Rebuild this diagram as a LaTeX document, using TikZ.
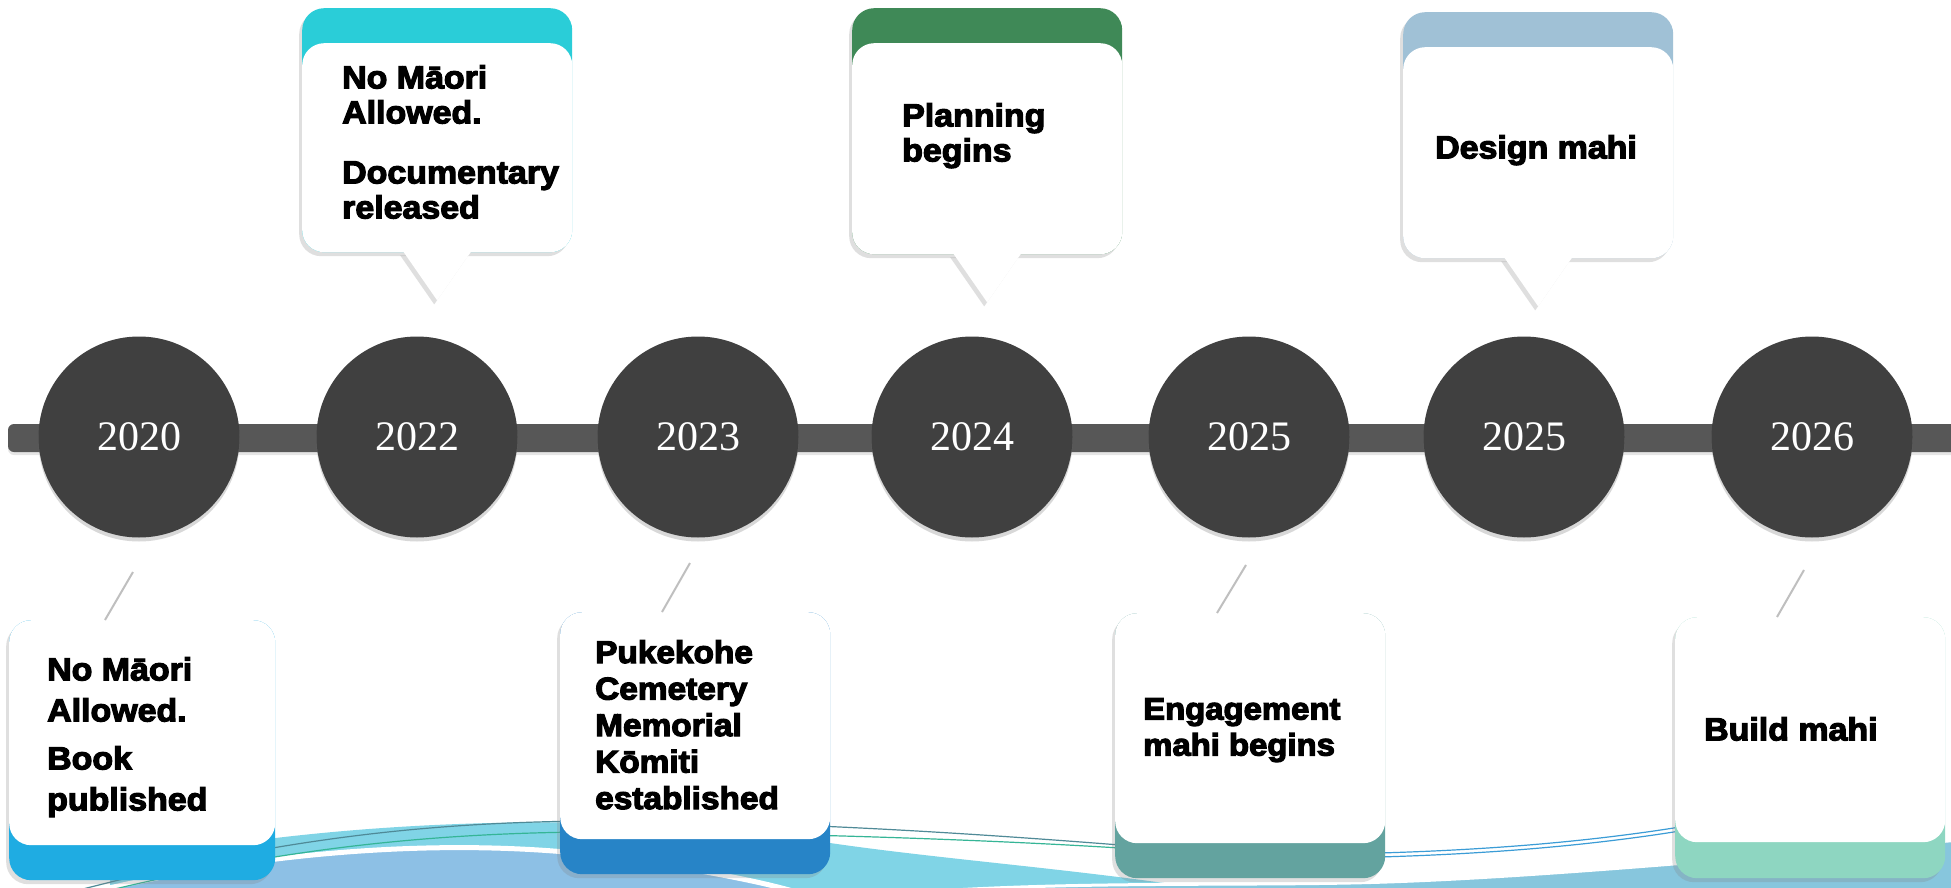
\documentclass[tikz,border=0pt]{standalone}
\usepackage{fontspec}
\setmainfont{Liberation Serif}
\newfontfamily\cardfont{Liberation Sans Bold}[FakeStretch=1.06]
\usepackage{tikz}
\usetikzlibrary{positioning,shadows}

\definecolor{ball}{HTML}{404040}
\definecolor{barline}{HTML}{575757}
\definecolor{aquatop}{HTML}{2ACDD8}
\definecolor{greentop}{HTML}{3F8957}
\definecolor{steeltop}{HTML}{A0C1D6}
\definecolor{skyfoot}{HTML}{1FACE2}
\definecolor{bluefoot}{HTML}{2784C7}
\definecolor{tealfoot}{HTML}{63A39F}
\definecolor{mintfoot}{HTML}{8ED6C1}
\definecolor{wavecyan}{HTML}{80D4E6}
\definecolor{waveblue}{HTML}{8DC0E5}
\definecolor{wavepale}{HTML}{87C6DD}
\definecolor{threadgrey}{HTML}{4F8A97}
\definecolor{threadgreen}{HTML}{35B596}
\definecolor{threadblue}{HTML}{3B9CD6}

\begin{document}
\begin{tikzpicture}[x=1pt,y=-1pt]
\tikzset{
	year node/.style = {circle, fill = ball, minimum size = 201pt, inner sep = 0, text = white,
		font = \fontsize{42}{46}\selectfont,
		drop shadow = {opacity = .3, shadow xshift = 0pt, shadow yshift = -4pt}},
	card/.style = {rectangle, rounded corners = 22pt, minimum width = 270pt, inner sep = 0,
		drop shadow = {opacity = .25, shadow xshift = -3pt, shadow yshift = -4pt}},
	card body/.style = {rectangle, rounded corners = 22pt, minimum width = 270pt, inner sep = 0, fill = white},
	card text/.style = {anchor = north west, inner sep = 0, align = left,
		execute at begin node = {\special{pdf:literal direct 2 Tr 1.2 w}},
		execute at end node = {\special{pdf:literal direct 0 Tr}}},
	pointer/.style = {fill = white, drop shadow = {opacity = .25, shadow xshift = -3pt, shadow yshift = -4pt}},
	tick/.style = {draw = black!25, line width = 2pt},
	thread/.style = {line width = 1.2pt},
}

\useasboundingbox (0,0) rectangle (1951,888);
\fill[white] (0,0) rectangle (1951,888);

% waves
\fill[wavecyan] (110,900) -- (110,866) .. controls (300,822) and (600,806) .. (830,843) .. controls (960,862) and (1120,872) .. (1270,900) -- cycle;
\path[fill = waveblue, draw = white, line width = 5pt] (60,900) .. controls (220,858) and (430,832) .. (620,858) .. controls (700,870) and (780,884) .. (820,900) -- cycle;
\path[fill = wavepale, draw = white, line width = 3pt] (840,900) .. controls (1000,880) and (1200,886) .. (1350,883) .. controls (1500,880) and (1700,862) .. (1960,840) -- (1960,900) -- cycle;
\draw[thread, threadgrey] (60,895) .. controls (260,842) and (420,820) .. (620,821) .. controls (800,822) and (980,834) .. (1120,845);
\draw[thread, threadgreen] (90,895) .. controls (280,848) and (440,830) .. (640,832) .. controls (820,834) and (990,840) .. (1120,848);
\draw[thread, threadblue] (1380,853) .. controls (1480,850) and (1580,843) .. (1680,827);
\draw[thread, threadblue] (1380,857) .. controls (1480,854) and (1580,847) .. (1680,831);

% timeline
\fill[barline, rounded corners = 6pt, drop shadow = {opacity = .2, shadow xshift = 0pt, shadow yshift = -3pt}] (8,424) rectangle (1970,452);
\foreach \yr/\cx [count = \i] in {2020/139, 2022/417, 2023/698, 2024/972, 2025/1249, 2025/1524, 2026/1812}
	\node(year\i)[year node] at (\cx,437) {\yr};

% callouts above the line
\node(doccard)[card, fill = aquatop, minimum height = 244pt, anchor = north west] at (302,8) {};
\node(docbody)[card body, minimum height = 209pt, anchor = south] at (doccard.south) {};
\path[pointer] ([xshift = -34pt, yshift = 1pt]docbody.south) -- ([yshift = -48pt]docbody.south) -- ([xshift = 34pt, yshift = 1pt]docbody.south) -- cycle;
\node(doctext)[card text, font = \cardfont\fontsize{32}{35}\selectfont] at ([shift = {(40,22)}]docbody.north west) {No Māori\\Allowed.\\[25pt]Documentary\\released};

\node(plancard)[card, fill = greentop, minimum height = 246pt, anchor = north west] at (852,8) {};
\node(planbody)[card body, minimum height = 211pt, anchor = south] at (plancard.south) {};
\path[pointer] ([xshift = -34pt, yshift = 1pt]planbody.south) -- ([yshift = -48pt]planbody.south) -- ([xshift = 34pt, yshift = 1pt]planbody.south) -- cycle;
\node(plantext)[card text, font = \cardfont\fontsize{32}{35}\selectfont] at ([shift = {(50,60)}]planbody.north west) {Planning\\begins};

\node(designcard)[card, fill = steeltop, minimum height = 246pt, anchor = north west] at (1403,12) {};
\node(designbody)[card body, minimum height = 211pt, anchor = south] at (designcard.south) {};
\path[pointer] ([xshift = -34pt, yshift = 1pt]designbody.south) -- ([yshift = -48pt]designbody.south) -- ([xshift = 34pt, yshift = 1pt]designbody.south) -- cycle;
\node(designtext)[card text, font = \cardfont\fontsize{32}{35}\selectfont] at ([shift = {(32,88)}]designbody.north west) {Design mahi};

% cards below the line
\node(bookcard)[card, fill = skyfoot, minimum width = 266pt, minimum height = 260pt, anchor = north west] at (9,620) {};
\node(bookbody)[card body, minimum width = 266pt, minimum height = 225pt, anchor = north] at (bookcard.north) {};
\coordinate(booktip) at (133,572);
\draw[tick] (booktip) -- ([xshift = 96pt]bookbody.north west);
\node(booktext)[card text, font = \cardfont\fontsize{32}{41}\selectfont] at ([shift = {(38,37)}]bookbody.north west) {No Māori\\Allowed.\\[7pt]Book\\published};

\node(komiticard)[card, fill = bluefoot, minimum height = 262pt, anchor = north west] at (560,612) {};
\node(komitibody)[card body, minimum height = 227pt, anchor = north] at (komiticard.north) {};
\coordinate(komititip) at (690,563);
\draw[tick] (komititip) -- ([xshift = 102pt]komitibody.north west);
\node(komititext)[card text, font = \cardfont\fontsize{31.5}{36.5}\selectfont] at ([shift = {(35,28)}]komitibody.north west) {Pukekohe\\Cemetery\\Memorial\\Kōmiti\\established};

\node(engagecard)[card, fill = tealfoot, minimum height = 265pt, anchor = north west] at (1115,613) {};
\node(engagebody)[card body, minimum height = 230pt, anchor = north] at (engagecard.north) {};
\coordinate(engagetip) at (1246,565);
\draw[tick] (engagetip) -- ([xshift = 102pt]engagebody.north west);
\node(engagetext)[card text, font = \cardfont\fontsize{31}{36}\selectfont] at ([shift = {(28,85)}]engagebody.north west) {Engagement\\mahi begins};

\node(buildcard)[card, fill = mintfoot, minimum height = 261pt, anchor = north west] at (1675,617) {};
\node(buildbody)[card body, minimum height = 225pt, anchor = north] at (buildcard.north) {};
\coordinate(buildtip) at (1804,570);
\draw[tick] (buildtip) -- ([xshift = 102pt]buildbody.north west);
\node(buildtext)[card text, font = \cardfont\fontsize{32}{36}\selectfont] at ([shift = {(29,100)}]buildbody.north west) {Build mahi};

\end{tikzpicture}
\end{document}
